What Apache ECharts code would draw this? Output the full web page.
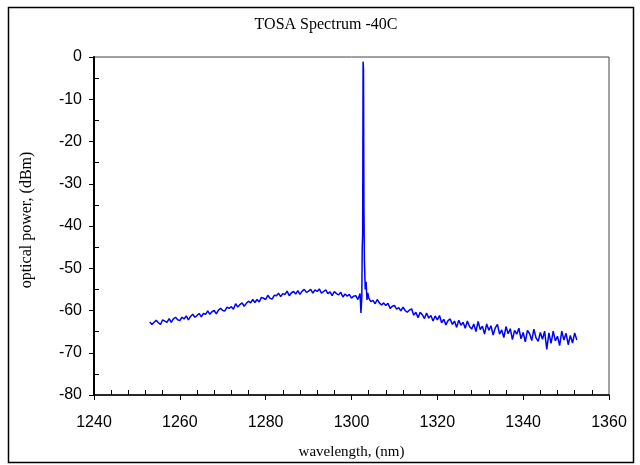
<!DOCTYPE html>
<html>
<head>
<meta charset="utf-8">
<script src="https://cdn.jsdelivr.net/npm/echarts@6/dist/echarts.min.js"></script>
<style>
html,body{margin:0;padding:0;background:#fff;}
#chart{width:640px;height:465px;}
</style>
</head>
<body>
<div id="chart"></div>
<script>
const titleText = "TOSA Spectrum -40C";
const xAxisTitle = "wavelength, (nm)";
const yAxisTitle = "optical power, (dBm)";
const xTicks = [1240, 1260, 1280, 1300, 1320, 1340, 1360];
const yTicks = [0, -10, -20, -30, -40, -50, -60, -70, -80];

const wavelength = [
1253.0,1253.5,1254.0,1254.5,1255.0,1255.5,1256.0,1256.5,1257.0,1257.5,
1258.0,1258.5,1259.0,1259.5,1260.0,1260.5,1261.0,1261.5,1262.0,1262.5,
1263.0,1263.5,1264.0,1264.5,1265.0,1265.5,1266.0,1266.5,1267.0,1267.5,
1268.0,1268.5,1269.0,1269.5,1270.0,1270.5,1271.0,1271.5,1272.0,1272.5,
1273.0,1273.5,1274.0,1274.5,1275.0,1275.5,1276.0,1276.5,1277.0,1277.5,
1278.0,1278.5,1279.0,1279.5,1280.0,1280.5,1281.0,1281.5,1282.0,1282.5,
1283.0,1283.5,1284.0,1284.5,1285.0,1285.5,1286.0,1286.5,1287.0,1287.5,
1288.0,1288.5,1289.0,1289.5,1290.0,1290.5,1291.0,1291.5,1292.0,1292.5,
1293.0,1293.5,1294.0,1294.5,1295.0,1295.5,1296.0,1296.5,1297.0,1297.5,
1298.0,1298.5,1299.0,1299.5,1300.0,1300.5,1301.0,1301.5,1302.0,1302.2,
1302.4,1302.5,1302.6,1302.7,1302.8,1302.9,1303.0,1303.2,1303.4,1303.6,
1303.8,1304.0,1304.5,1305.0,1305.5,1306.0,1306.5,1307.0,1307.5,1308.0,
1308.5,1309.0,1309.5,1310.0,1310.5,1311.0,1311.5,1312.0,1312.5,1313.0,
1313.5,1314.0,1314.5,1315.0,1315.5,1316.0,1316.5,1317.0,1317.5,1318.0,
1318.5,1319.0,1319.5,1320.0,1320.5,1321.0,1321.5,1322.0,1322.5,1323.0,
1323.5,1324.0,1324.5,1325.0,1325.5,1326.0,1326.5,1327.0,1327.5,1328.0,
1328.5,1329.0,1329.5,1330.0,1330.5,1331.0,1331.5,1332.0,1332.5,1333.0,
1333.5,1334.0,1334.5,1335.0,1335.5,1336.0,1336.5,1337.0,1337.5,1338.0,
1338.5,1339.0,1339.5,1340.0,1340.5,1341.0,1341.5,1342.0,1342.5,1343.0,
1343.5,1344.0,1344.5,1345.0,1345.5,1346.0,1346.5,1347.0,1347.5,1348.0,
1348.5,1349.0,1349.5,1350.0,1350.5,1351.0,1351.5,1352.0,1352.5
];

const power = [
-62.7,-63.3,-62.8,-62.3,-62.9,-63.3,-62.2,-62.5,-62.8,-61.9,
-62.8,-62.0,-61.6,-62.2,-62.4,-61.6,-62.0,-61.3,-62.2,-61.4,
-60.9,-61.6,-61.2,-60.7,-61.5,-60.7,-60.9,-60.1,-60.9,-60.3,
-60.0,-60.8,-59.9,-59.5,-60.0,-60.1,-59.2,-59.5,-59.1,-59.7,
-58.4,-59.2,-58.6,-58.2,-59.0,-58.3,-57.8,-58.2,-57.4,-58.1,
-57.4,-58.0,-56.9,-57.1,-57.4,-56.4,-57.1,-57.3,-56.4,-56.5,
-55.9,-56.7,-56.0,-56.2,-55.4,-56.5,-55.8,-55.5,-56.1,-55.3,
-56.2,-55.4,-55.0,-55.7,-55.4,-55.0,-55.9,-55.1,-55.5,-54.9,
-55.9,-55.5,-55.1,-56.0,-55.6,-56.5,-55.5,-56.0,-56.3,-55.7,
-56.8,-56.1,-56.6,-56.2,-57.1,-56.6,-56.5,-57.4,-56.0,-60.6,
-57.0,-45.0,-42.0,-1.1,-3.0,-35.5,-48.0,-55.0,-53.2,-57.5,
-55.8,-57.0,-57.9,-57.6,-58.4,-57.4,-58.2,-58.7,-58.2,-58.8,
-58.3,-59.5,-59.0,-58.8,-59.7,-59.3,-60.1,-59.2,-60.0,-60.4,
-59.9,-59.6,-61.1,-60.4,-61.7,-60.4,-61.0,-61.9,-60.6,-61.8,
-61.2,-62.5,-61.3,-62.2,-61.2,-62.9,-62.1,-63.4,-62.4,-62.0,
-63.3,-62.5,-64.0,-62.3,-63.5,-62.8,-64.2,-62.5,-63.8,-64.4,
-63.2,-65.0,-62.6,-64.5,-63.7,-65.6,-63.2,-64.7,-63.6,-65.8,
-64.1,-63.3,-65.6,-64.6,-66.4,-63.8,-65.5,-64.3,-66.9,-64.7,
-65.6,-64.2,-66.7,-65.2,-67.4,-64.7,-65.5,-67.1,-64.4,-66.5,
-67.3,-65.2,-66.8,-64.9,-69.2,-65.3,-67.8,-64.9,-67.2,-66.1,
-68.3,-64.9,-67.0,-65.4,-68.1,-65.9,-67.7,-65.3,-67.0
];

const seriesData = wavelength.map((w, i) => [w, power[i]]);

const chart = echarts.init(document.getElementById('chart'), null, {renderer: 'canvas'});
const sans = 'Liberation Sans, Arial, sans-serif';
const serif = 'Liberation Serif, Times New Roman, serif';

chart.setOption({
  animation: false,
  backgroundColor: '#ffffff',
  title: {
    text: titleText,
    left: 321, top: 12, textAlign: 'center',
    textStyle: {fontFamily: serif, fontSize: 16, fontWeight: 'normal', color: '#000'}
  },
  grid: {
    left: 94, right: 31, top: 57, bottom: 70,
    show: true, borderColor: '#444', borderWidth: 1, backgroundColor: 'transparent'
  },
  xAxis: {
    type: 'value',
    min: xTicks[0], max: xTicks[xTicks.length - 1], interval: 20,
    name: xAxisTitle, nameLocation: 'middle', nameGap: 50,
    nameTextStyle: {fontFamily: serif, fontSize: 15, color: '#000'},
    axisLine: {show: true, onZero: false, lineStyle: {color: '#000', width: 1.5}},
    axisTick: {show: true, inside: false, length: 5, lineStyle: {color: '#000', width: 1}},
    minorTick: {show: true, splitNumber: 5, length: -5, lineStyle: {color: '#000', width: 1}},
    axisLabel: {fontFamily: sans, fontSize: 16, color: '#000', margin: 20,
      formatter: v => String(v)},
    splitLine: {show: false}
  },
  yAxis: {
    type: 'value',
    min: yTicks[yTicks.length - 1], max: yTicks[0], interval: 10,
    axisLine: {show: true, onZero: false, lineStyle: {color: '#000', width: 2}},
    axisTick: {show: true, inside: false, length: 5, lineStyle: {color: '#000', width: 1}},
    minorTick: {show: true, splitNumber: 2, length: -5, lineStyle: {color: '#000', width: 1}},
    axisLabel: {fontFamily: sans, fontSize: 16, color: '#000', margin: 12},
    splitLine: {show: false}
  },
  graphic: [
    {
      type: 'rect', silent: true, z: 100,
      shape: {x: 8.5, y: 7.5, width: 625, height: 455},
      style: {fill: 'none', stroke: '#000', lineWidth: 1.5}
    },
    {
      type: 'text', silent: true,
      x: 27, y: 220, rotation: Math.PI / 2,
      style: {
        text: yAxisTitle, font: '16px ' + serif, fill: '#000',
        align: 'center', verticalAlign: 'middle'
      }
    }
  ],
  series: [{
    type: 'line',
    data: seriesData,
    showSymbol: false,
    symbol: 'none',
    lineStyle: {color: '#0000ff', width: 1.5},
    clip: true
  }]
});
</script>
</body>
</html>
